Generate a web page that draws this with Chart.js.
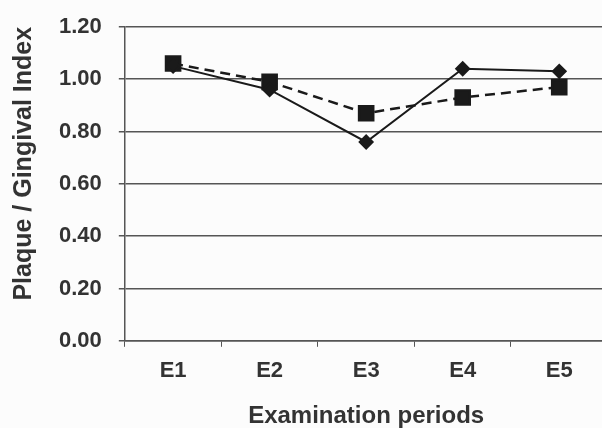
<!DOCTYPE html>
<html>
<head>
<meta charset="utf-8">
<script src="https://cdn.jsdelivr.net/npm/chart.js@4/dist/chart.umd.min.js"></script>
<style>
  html, body { margin: 0; padding: 0; background: #fcfcfc; overflow: hidden; width: 602px; height: 428px; }
  #wrap { width: 620px; height: 428px; }
</style>
</head>
<body>
<div id="wrap"><canvas id="chart"></canvas></div>
<script>
// examination periods
var periods = ["E1", "E2", "E3", "E4", "E5"];
// solid line, diamonds
var solidValues = [1.05, 0.96, 0.76, 1.04, 1.03];
// dashed line, squares
var dashedValues = [1.06, 0.99, 0.87, 0.93, 0.97];
var yTicks = [0, 0.2, 0.4, 0.6, 0.8, 1.0, 1.2];

var textColor = "#333";
var lineColor = "#555";

new Chart("chart", {
  type: "line",
  data: {
    labels: periods,
    datasets: [{
      data: solidValues,
      borderColor: "#1a1a1a",
      backgroundColor: "#1a1a1a",
      borderWidth: 2,
      pointStyle: "rectRot",
      pointRadius: 6.5,
      pointHoverRadius: 6.5,
      tension: 0
    }, {
      data: dashedValues,
      borderColor: "#1a1a1a",
      backgroundColor: "#1a1a1a",
      borderWidth: 2.5,
      borderDash: [10, 6],
      pointStyle: "rect",
      pointRadius: 10,
      pointHoverRadius: 10,
      tension: 0
    }]
  },
  options: {
    responsive: true,
    maintainAspectRatio: false,
    animation: false,
    layout: { padding: { top: 7, right: 10, left: 0, bottom: 0 } },
    plugins: { legend: { display: false }, tooltip: { enabled: false } },
    scales: {
      x: {
        offset: true,
        grid: { display: true, offset: true, drawOnChartArea: false, drawTicks: true, tickLength: 6, color: lineColor },
        border: { display: true, color: lineColor, width: 1.5 },
        ticks: { color: textColor, padding: 11, font: { family: "Liberation Sans", weight: "bold", size: 22 } },
        title: { display: true, text: "Examination periods", color: textColor, padding: { top: 7, bottom: -3 },
                 font: { family: "Liberation Sans", weight: "bold", size: 24 } }
      },
      y: {
        min: 0,
        max: 1.2,
        afterBuildTicks: function (scale) { scale.ticks = yTicks.map(function (v) { return { value: v }; }); },
        grid: { color: lineColor, lineWidth: 1.5, tickLength: 6 },
        border: { display: true, color: lineColor, width: 1.5 },
        ticks: { color: textColor, padding: 17, callback: function (v) { return Number(v).toFixed(2); },
                 font: { family: "Liberation Sans", weight: "bold", size: 22, lineHeight: 0.9 } },
        title: { display: true, text: "Plaque / Gingival Index", color: textColor, align: "end", padding: { top: 9, bottom: 3 },
                 font: { family: "Liberation Sans", weight: "bold", size: 25 } }
      }
    }
  }
});
</script>
</body>
</html>
